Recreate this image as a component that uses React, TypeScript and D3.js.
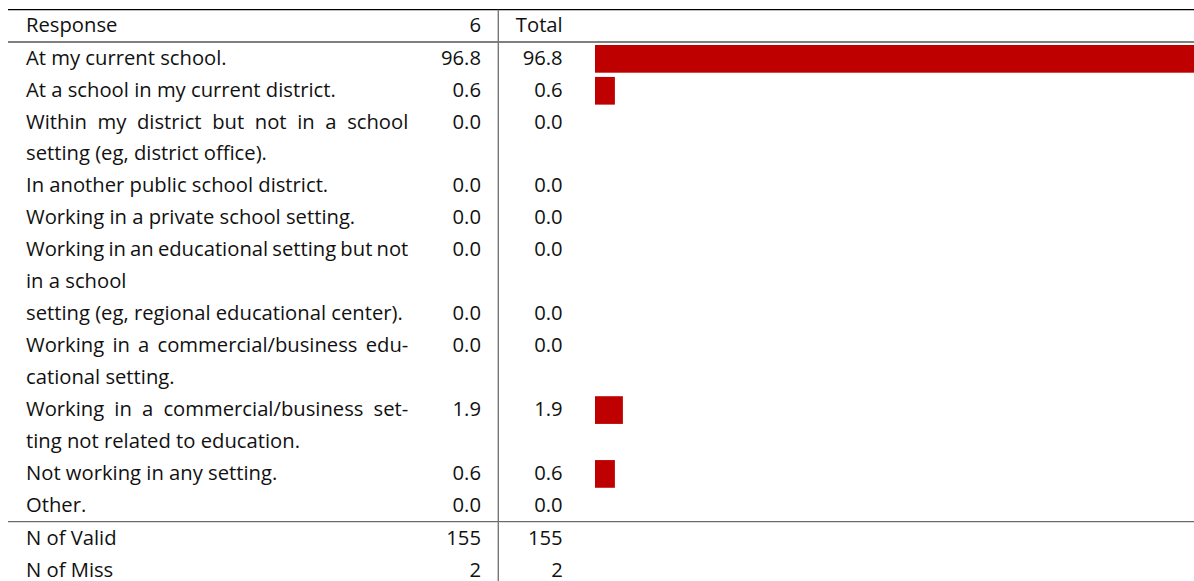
import React, { useMemo } from "react";
import * as d3 from "d3";

// ---- data ----
const headerLabels: string[] = ["Response", "6", "Total"];
const categoryLines: string[][] = [
  ["At my current school."],
  ["At a school in my current district."],
  ["Within my district but not in a school", "setting (eg, district office)."],
  ["In another public school district."],
  ["Working in a private school setting."],
  ["Working in an educational setting but not", "in a school"],
  ["setting (eg, regional educational center)."],
  ["Working in a commercial/business edu-", "cational setting."],
  ["Working in a commercial/business set-", "ting not related to education."],
  ["Not working in any setting."],
  ["Other."],
];
const col6Values: number[] = [96.8, 0.6, 0.0, 0.0, 0.0, 0.0, 0.0, 0.0, 1.9, 0.6, 0.0];
const totalValues: number[] = [96.8, 0.6, 0.0, 0.0, 0.0, 0.0, 0.0, 0.0, 1.9, 0.6, 0.0];
const statLabels: string[] = ["N of Valid", "N of Miss"];
const statCol6: number[] = [155, 2];
const statTotal: number[] = [155, 2];

// ---- layout ----
const W = 1194;
const H = 581;
const FONT_FAMILY = '"Open Sans", "DejaVu Sans", sans-serif';
const TEXT_X = 26;
const TEXT_RIGHT = 408.3;
const COL6_RIGHT = 481;
const VLINE_X = 498.3;
const TOTAL_RIGHT = 562.7;
const BAR_X0 = 595;
const RED = "#bf0000";

function makeMeasure() {
  const c = typeof document !== "undefined" ? document.createElement("canvas") : null;
  const ctx = c ? c.getContext("2d") : null;
  return (t: string, fs: number) => {
    if (!ctx) return t.length * fs * 0.5;
    ctx.font = `${fs}px ${FONT_FAMILY}`;
    return ctx.measureText(t).width;
  };
}

export default function App() {
  const measure = useMemo(() => makeMeasure(), []);
  // fit font size so that sample lines have the widths seen in the reference
  const FS = useMemo(() => {
    const a = 18 * 303.3 / measure("In another public school district.", 18);
    const b = 18 * 370.7 / measure("setting (eg, regional educational center).", 18);
    const c = 18 * 334 / measure("Working in a private school setting.", 18);
    return (a + b + c) / 3;
  }, [measure]);

  const totalLines = categoryLines.reduce((s, l) => s + l.length, 0);
  const yLine = d3.scaleLinear().domain([0, totalLines - 1]).range([64.7, 511.7]);
  const yStat = d3.scaleLinear().domain([0, 1]).range([545, 576.5]);
  const xBar = d3.scaleLinear().domain([0, 100]).range([BAR_X0 + 16.2, BAR_X0 + 16.2 + 615]);
  const fmt = d3.format(".1f");

  const rows: { lines: string[]; start: number; v6: number; vt: number }[] = [];
  let idx = 0;
  categoryLines.forEach((lines, i) => {
    rows.push({ lines, start: idx, v6: col6Values[i], vt: totalValues[i] });
    idx += lines.length;
  });

  const renderLine = (text: string, y: number, justify: boolean, key: string) => {
    if (!justify) {
      return (
        <text key={key} x={TEXT_X} y={y}>
          {text}
        </text>
      );
    }
    const words = text.split(" ");
    const widths = words.map((w) => measure(w, FS));
    const sum = widths.reduce((a, b) => a + b, 0);
    const gap = (TEXT_RIGHT - TEXT_X - sum) / (words.length - 1);
    let x = TEXT_X;
    return (
      <text key={key} y={y}>
        {words.map((w, k) => {
          const el = (
            <tspan key={k} x={x}>
              {w}
            </tspan>
          );
          x += widths[k] + gap;
          return el;
        })}
      </text>
    );
  };

  return (
    <svg
      width={W}
      height={H}
      style={{ position: "absolute", left: 0, top: 0, background: "#fff" }}
      fontFamily={FONT_FAMILY}
      fontSize={FS}
      fill="#111"
    >
      <line x1={8} x2={W} y1={9.7} y2={9.7} stroke="#000" strokeWidth={1.3} />
      <line x1={8} x2={W} y1={42} y2={42} stroke="#000" strokeWidth={1} />
      <line x1={8} x2={W} y1={521.7} y2={521.7} stroke="#333" strokeWidth={0.9} />
      <line x1={VLINE_X} x2={VLINE_X} y1={9.7} y2={H} stroke="#777" strokeWidth={1.4} />

      <text x={TEXT_X} y={32.3}>{headerLabels[0]}</text>
      <text x={COL6_RIGHT} y={32.3} textAnchor="end">{headerLabels[1]}</text>
      <text x={TOTAL_RIGHT} y={32.3} textAnchor="end">{headerLabels[2]}</text>

      {rows.map((r, i) => {
        const y0 = yLine(r.start);
        return (
          <g key={i}>
            {r.lines.map((ln, k) =>
              renderLine(ln, yLine(r.start + k), k < r.lines.length - 1, `l${k}`)
            )}
            <text x={COL6_RIGHT} y={y0} textAnchor="end">{fmt(r.v6)}</text>
            <text x={TOTAL_RIGHT} y={y0} textAnchor="end">{fmt(r.vt)}</text>
            {r.vt > 0 && (
              <rect
                x={BAR_X0}
                y={y0 - 19.7}
                width={xBar(r.vt) - BAR_X0}
                height={27.7}
                fill={RED}
              />
            )}
          </g>
        );
      })}

      {statLabels.map((s, i) => (
        <g key={s}>
          <text x={TEXT_X} y={yStat(i)}>{s}</text>
          <text x={COL6_RIGHT} y={yStat(i)} textAnchor="end">{statCol6[i]}</text>
          <text x={TOTAL_RIGHT} y={yStat(i)} textAnchor="end">{statTotal[i]}</text>
        </g>
      ))}
    </svg>
  );
}
